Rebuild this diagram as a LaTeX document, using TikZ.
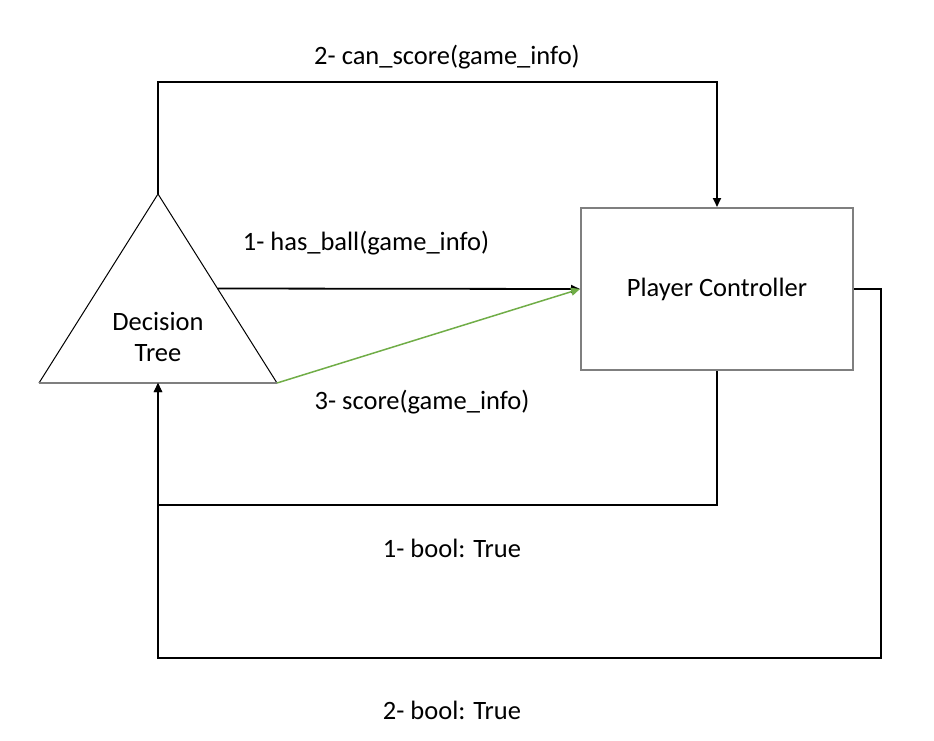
\documentclass[tikz,border=0pt]{standalone}
\usepackage{fontspec}
\setmainfont{Carlito}
\usetikzlibrary{arrows.meta}
\definecolor{boxgrey}{HTML}{7F7F7F}
\definecolor{scoregreen}{HTML}{70AD47}

\begin{document}
\begin{tikzpicture}[x=1pt, y=-1pt,
  every node/.style={font=\fontsize{26.5}{31}\selectfont},
  flow/.style={draw=black, line width=1.8pt, -{Triangle[length=9pt,width=8pt]}}]
\useasboundingbox (0,0) rectangle (934,741);

% Decision tree
\coordinate (apex) at (158,194);
\coordinate (baseL) at (39,383);
\coordinate (baseR) at (277,383);
\coordinate (baseM) at (158,383);
\draw[line width=1pt] (baseL) -- (apex) -- (baseR);
\draw[boxgrey, line width=2pt] (baseL) -- (baseR);
\node[align=center] (tree) at (158,337) {Decision\\Tree};
\path (apex) -- (baseR) coordinate[pos=0.5] (hasball);

% Player controller
\node[draw=boxgrey, line width=2pt, minimum width=272, minimum height=162, inner sep=0] (ctrl) at (717,289) {Player Controller};

% Calls
\draw[flow] (apex) -- ++(0,-112) -| (ctrl.north);
\draw[flow] (hasball) -- (ctrl.west);
\draw[flow, draw=scoregreen, line width=1.5pt, -{Triangle[length=9pt,width=8pt,fill=scoregreen]}] (baseR) -- (ctrl.west);

% Returns
\draw[flow] (ctrl.south) -- ++(0,134) -| (baseM);
\draw[flow] (ctrl.east) -- ++(27,0) -- ++(0,369) -| (baseM);

% Labels
\node (canscore) at (447,57) {2- can\_score(game\_info)};
\node (hasballlbl) at (366,243) {1- has\_ball(game\_info)};
\node (scorelbl) at (422,402) {3- score(game\_info)};
\node (boolone) at (452,548) {1- bool: True};
\node (booltwo) at (452,710) {2- bool: True};
\end{tikzpicture}
\end{document}
